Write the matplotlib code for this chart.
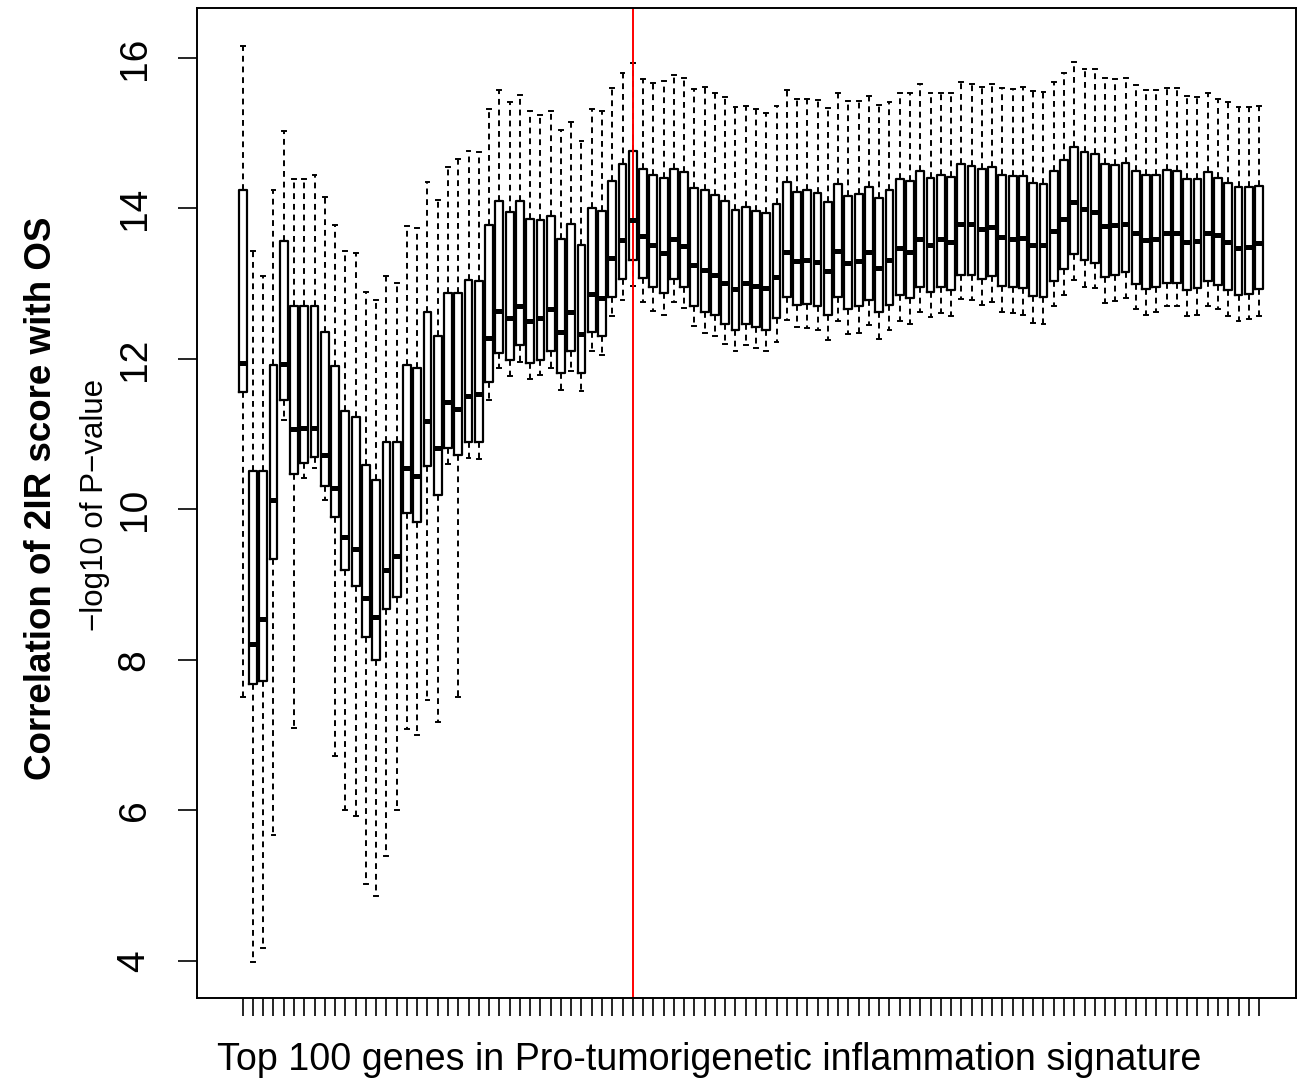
import matplotlib
matplotlib.use("Agg")
import matplotlib.pyplot as plt

plt.rcParams['font.family'] = ['Liberation Sans', 'DejaVu Sans']

# five-number summaries for the 100 gene-set sizes
whisker_high = [16.16, 13.44, 13.10, 14.24, 15.03, 14.39, 14.39, 14.44, 14.15, 13.78,
                13.44, 13.41, 12.89, 12.79, 13.10, 13.01, 13.77, 13.74, 14.35, 14.11,
                14.55, 14.66, 14.77, 14.75, 15.32, 15.58, 15.42, 15.51, 15.29, 15.24,
                15.29, 15.04, 15.15, 14.90, 15.32, 15.29, 15.60, 15.80, 15.93, 15.72,
                15.67, 15.69, 15.77, 15.74, 15.59, 15.61, 15.53, 15.48, 15.35, 15.36,
                15.32, 15.27, 15.36, 15.57, 15.46, 15.46, 15.44, 15.34, 15.53, 15.43,
                15.43, 15.49, 15.38, 15.42, 15.54, 15.54, 15.65, 15.53, 15.54, 15.54,
                15.68, 15.65, 15.62, 15.66, 15.60, 15.59, 15.62, 15.56, 15.55, 15.68,
                15.80, 15.94, 15.86, 15.85, 15.73, 15.72, 15.73, 15.64, 15.57, 15.57,
                15.60, 15.60, 15.50, 15.48, 15.54, 15.46, 15.41, 15.35, 15.35, 15.36]
q3 = [14.24, 10.51, 10.51, 11.92, 13.57, 12.71, 12.71, 12.71, 12.36, 11.90,
      11.31, 11.23, 10.59, 10.39, 10.90, 10.90, 11.92, 11.88, 12.63, 12.30,
      12.88, 12.88, 13.05, 13.03, 13.78, 14.10, 13.95, 14.10, 13.86, 13.85,
      13.90, 13.59, 13.79, 13.51, 14.00, 13.96, 14.37, 14.59, 14.76, 14.53,
      14.45, 14.41, 14.53, 14.48, 14.27, 14.25, 14.18, 14.10, 13.98, 14.02,
      13.97, 13.94, 14.06, 14.35, 14.22, 14.24, 14.21, 14.08, 14.33, 14.17,
      14.19, 14.29, 14.14, 14.24, 14.39, 14.36, 14.50, 14.40, 14.45, 14.42,
      14.59, 14.56, 14.52, 14.55, 14.45, 14.43, 14.43, 14.34, 14.32, 14.50,
      14.65, 14.82, 14.75, 14.73, 14.59, 14.58, 14.61, 14.50, 14.45, 14.45,
      14.51, 14.50, 14.39, 14.39, 14.48, 14.41, 14.34, 14.28, 14.28, 14.30]
median = [11.94, 8.21, 8.55, 10.13, 11.93, 11.07, 11.08, 11.08, 10.72, 10.28,
          9.63, 9.47, 8.83, 8.57, 9.20, 9.38, 10.55, 10.44, 11.17, 10.82,
          11.43, 11.34, 11.51, 11.53, 12.28, 12.64, 12.54, 12.70, 12.51, 12.55,
          12.66, 12.36, 12.62, 12.33, 12.87, 12.81, 13.34, 13.58, 13.85, 13.63,
          13.52, 13.41, 13.60, 13.50, 13.25, 13.18, 13.12, 13.01, 12.93, 13.01,
          12.97, 12.94, 13.09, 13.42, 13.30, 13.32, 13.29, 13.17, 13.44, 13.28,
          13.30, 13.42, 13.21, 13.32, 13.47, 13.42, 13.59, 13.52, 13.59, 13.56,
          13.80, 13.80, 13.73, 13.75, 13.62, 13.60, 13.61, 13.51, 13.51, 13.70,
          13.86, 14.08, 13.99, 13.95, 13.77, 13.78, 13.80, 13.67, 13.58, 13.59,
          13.68, 13.68, 13.56, 13.57, 13.68, 13.65, 13.56, 13.48, 13.49, 13.54]
q1 = [11.56, 7.68, 7.72, 9.34, 11.45, 10.47, 10.62, 10.70, 10.31, 9.90,
      9.20, 8.98, 8.30, 8.00, 8.68, 8.84, 9.95, 9.84, 10.58, 10.19,
      10.82, 10.72, 10.89, 10.89, 11.69, 12.08, 11.98, 12.19, 11.95, 11.99,
      12.11, 11.81, 12.11, 11.81, 12.36, 12.30, 12.82, 13.06, 13.31, 13.07,
      12.96, 12.88, 13.06, 12.96, 12.71, 12.63, 12.58, 12.47, 12.39, 12.47,
      12.43, 12.39, 12.54, 12.82, 12.72, 12.73, 12.70, 12.58, 12.83, 12.67,
      12.70, 12.79, 12.63, 12.72, 12.85, 12.81, 12.96, 12.89, 12.95, 12.92,
      13.12, 13.12, 13.06, 13.10, 12.97, 12.95, 12.94, 12.84, 12.83, 13.04,
      13.20, 13.40, 13.31, 13.28, 13.09, 13.12, 13.15, 13.00, 12.93, 12.95,
      13.01, 13.01, 12.91, 12.94, 13.04, 12.98, 12.92, 12.85, 12.86, 12.93]
whisker_low = [7.51, 3.99, 4.17, 5.67, 11.19, 7.09, 10.42, 10.55, 10.13, 6.72,
               6.01, 5.92, 5.02, 4.87, 5.40, 6.01, 7.08, 7.00, 7.47, 7.17,
               10.61, 7.51, 10.69, 10.67, 11.46, 11.88, 11.77, 11.96, 11.73, 11.79,
               11.88, 11.59, 11.84, 11.57, 12.10, 12.05, 12.57, 12.78, 12.97, 12.76,
               12.64, 12.59, 12.76, 12.68, 12.44, 12.35, 12.31, 12.20, 12.11, 12.19,
               12.14, 12.10, 12.23, 12.52, 12.42, 12.41, 12.38, 12.25, 12.50, 12.33,
               12.35, 12.45, 12.27, 12.38, 12.50, 12.46, 12.63, 12.56, 12.61, 12.57,
               12.80, 12.79, 12.72, 12.76, 12.63, 12.61, 12.59, 12.48, 12.47, 12.70,
               12.85, 13.05, 12.95, 12.94, 12.75, 12.77, 12.81, 12.67, 12.58, 12.62,
               12.70, 12.70, 12.57, 12.58, 12.70, 12.66, 12.57, 12.50, 12.53, 12.57]

cutoff_gene = 39  # red line position

n = len(median)
positions = list(range(1, n + 1))
stats = []
for i in range(n):
    stats.append(dict(whislo=whisker_low[i], q1=q1[i], med=median[i],
                      q3=q3[i], whishi=whisker_high[i], fliers=[]))

fig = plt.figure(figsize=(13.16, 10.91), dpi=100)
ax = fig.add_axes([197 / 1316, 1 - 998 / 1091, (1296 - 197) / 1316, (998 - 8) / 1091])

ax.bxp(stats, positions=positions, widths=0.76, showfliers=False,
       capwidths=0.38,
       boxprops=dict(color='black', linewidth=1.6),
       medianprops=dict(color='black', linewidth=3.6, solid_capstyle='butt'),
       whiskerprops=dict(color='black', linewidth=1.4, linestyle=(0, (3, 2.5))),
       capprops=dict(color='black', linewidth=1.4))

ax.axvline(cutoff_gene, color='red', linewidth=1.4)

ax.set_xlim(-3.45, 103.6)
ax.set_ylim(3.508, 16.664)
ax.set_yticks([4, 6, 8, 10, 12, 14, 16])
ax.set_xticks(positions)
ax.set_xticklabels([])
ax.tick_params(axis='x', length=13, width=1.2, direction='out')
ax.tick_params(axis='y', length=14, width=1.2, pad=18, labelsize=28,
               labelrotation=90)
for lab in ax.get_yticklabels():
    lab.set_va('center')
for sp in ax.spines.values():
    sp.set_linewidth(1.4)

fig.text(0.0319, 0.5435, 'Correlation of 2IR score with OS', rotation=90,
         fontsize=26.5, fontweight='bold', ha='center', va='center')
fig.text(0.0722, 0.537, '\u2212log10 of P\u2212value', rotation=90,
         fontsize=22.5, ha='center', va='center')
fig.text(0.539, 0.0284, 'Top 100 genes in Pro-tumorigenetic inflammation signature',
         fontsize=27.1, ha='center', va='center')

fig.savefig('out.png', dpi=100)
